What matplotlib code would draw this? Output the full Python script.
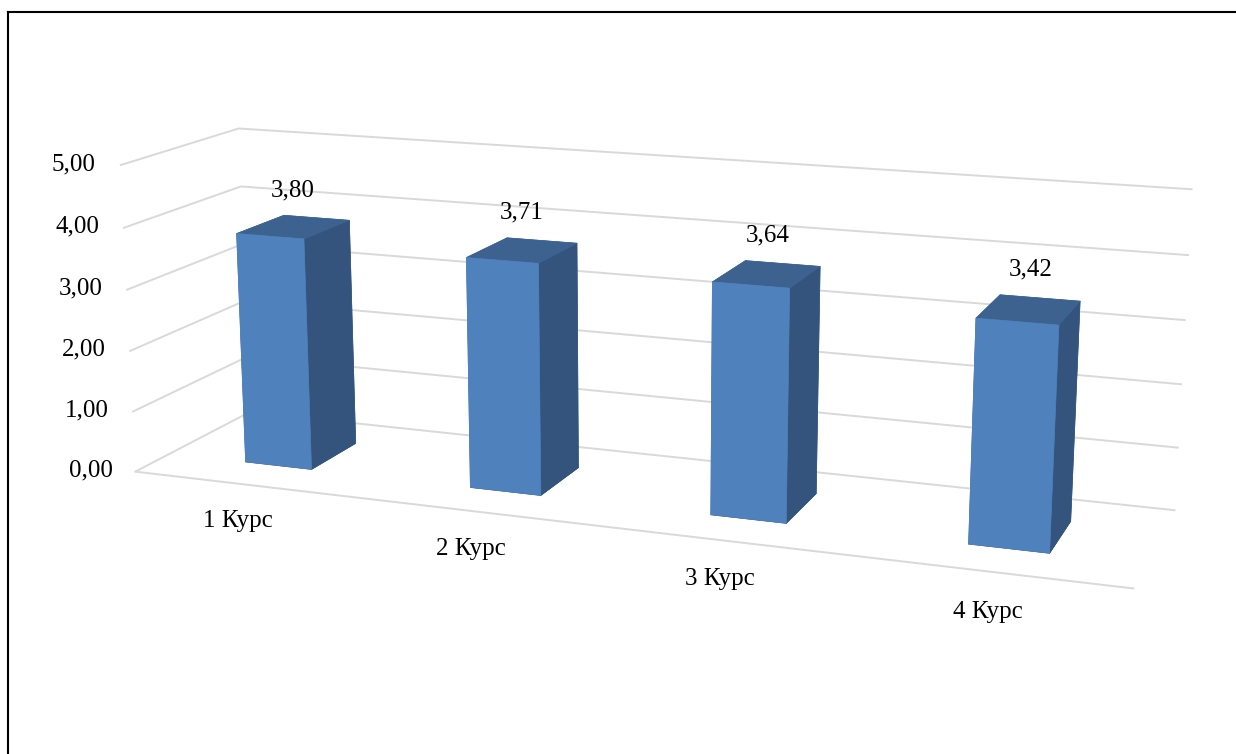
import numpy as np
import matplotlib.pyplot as plt
from matplotlib.lines import Line2D
from matplotlib.ticker import FuncFormatter

categories = ['1 Курс', '2 Курс', '3 Курс', '4 Курс']
values = [3.80, 3.71, 3.64, 3.42]
z_ticks = [0, 1, 2, 3, 4, 5]

plt.rcParams['font.family'] = ['Liberation Serif', 'DejaVu Serif']
plt.rcParams['font.size'] = 18

fig = plt.figure(figsize=(12.36, 7.54), dpi=100)
ax = fig.add_axes([0.0064, -0.288, 1, 1.64], projection='3d')
ax.view_init(elev=14, azim=-69.7)
ax.set_proj_type('persp', focal_length=0.38)
ax.set_box_aspect((3.99, 0.94, 1.245), zoom=0.873)

front = '#4F81BD'
side = '#34547E'
top = '#3D628F'
# bottom, top, front, back, left, right
face_cols = [side, top, front, front, front, side]

bar_w = 0.3
bar_d = 0.42
for i, v in enumerate(values):
    ax.bar3d(i + 0.5 - bar_w / 2, 0.5 - bar_d / 2, 0, bar_w, bar_d, v,
             color=face_cols, shade=False, edgecolor=face_cols, linewidth=0.5)
    ax.text(i + 0.5, 0.5, v + 0.6, f'{v:.2f}'.replace('.', ','),
            ha='center', va='center', fontsize=18)

ax.set_xlim(0, 4, view_margin=0)
ax.set_ylim(0, 1, view_margin=0)
ax.set_zlim(0, 5, view_margin=0)

ax.set_xticks([i + 0.5 for i in range(len(categories))])
ax.set_xticklabels(categories)
ax.set_yticks([])
ax.set_zticks(z_ticks)
ax.zaxis.set_major_formatter(FuncFormatter(lambda v, p: f'{v:.2f}'.replace('.', ',')))
ax.zaxis.set_ticks_position('lower')
for t in ax.zaxis.get_major_ticks():
    t.label1.set_va('center')

grid_col = '#D9D9D9'
for axis in (ax.xaxis, ax.yaxis, ax.zaxis):
    axis.set_pane_color((1, 1, 1, 0))
    axis.pane.set_edgecolor((1, 1, 1, 0))
    axis._axinfo['tick']['inward_factor'] = 0
    axis._axinfo['tick']['outward_factor'] = 0
ax.xaxis._axinfo['grid'].update(color=(1, 1, 1, 0))
ax.yaxis._axinfo['grid'].update(color=(1, 1, 1, 0))
ax.zaxis._axinfo['grid'].update(color=grid_col, linewidth=1.4)
ax.xaxis.line.set_color(grid_col)
ax.xaxis.line.set_linewidth(1.4)
ax.yaxis.line.set_color((1, 1, 1, 0))
ax.zaxis.line.set_color((1, 1, 1, 0))
ax.tick_params(axis='x', pad=24)
ax.tick_params(axis='z', pad=13)

# outer frame (left and top edges only)
fig.add_artist(Line2D([7.5 / 1236, 7.5 / 1236], [0, 1 - 11.5 / 754], color='black', lw=1.5))
fig.add_artist(Line2D([7.5 / 1236, 1], [1 - 11.5 / 754, 1 - 11.5 / 754], color='black', lw=1.5))

fig.savefig('out.png', dpi=100)
